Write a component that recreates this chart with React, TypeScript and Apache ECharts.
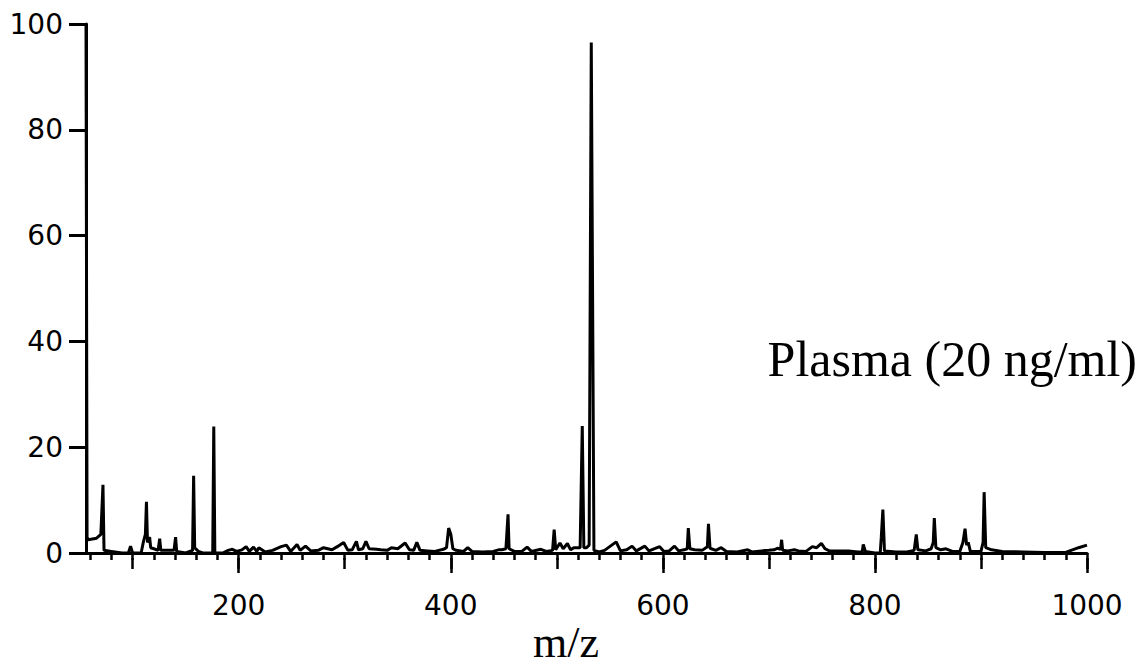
import React, { useEffect, useRef } from "react";
import * as echarts from "echarts";

// m/z positions and relative intensities
const mz: number[] = [
  56, 57, 58, 66, 70, 72, 73, 80, 90, 96, 98, 100, 108, 110, 112, 113, 114, 116, 117, 120,
  124, 125.5, 126.5, 132, 139, 140.5, 141.5, 150, 156.5, 157.5, 158.5, 162, 166, 175.5, 176.5, 177.5,
  185, 190, 194, 198, 203, 207, 210, 214, 217, 219, 225, 232, 240, 245, 249, 255, 258, 263, 268,
  275, 280, 288, 293, 299, 303, 307, 311, 313, 317, 320, 323, 330, 334, 340, 344, 350, 357, 361,
  365, 368, 371, 378, 385, 393, 396, 398, 400, 402, 405, 412, 416, 420, 430, 440, 445, 448, 452,
  454, 455, 460, 467, 472, 476, 485, 490, 496, 497.5, 499, 503, 506, 510, 513, 516, 522, 524, 525.5,
  528, 530.5, 532.5, 535, 540, 545, 556, 560, 566, 571, 575, 583, 587, 597, 601, 606, 611, 615, 620,
  623, 624, 625.5, 630, 637, 642, 643, 644.5, 650, 655, 660, 670, 680, 684, 693, 700, 705, 708, 711,
  712, 713, 718, 724, 728, 735, 741, 745, 749.5, 753, 757, 765, 775, 784, 788, 789, 791, 800, 805,
  806, 807.5, 809, 820, 830, 837, 839, 840.5, 848, 853, 855, 856, 857.5, 862, 867, 873, 880, 883,
  885, 886.5, 888, 890, 900, 902, 903, 904.5, 910, 920, 940, 960, 980, 985, 992, 1000,
];
const intensity: number[] = [
  100, 3, 2.5, 2.8, 3.5, 12.9, 0.5, 0.3, 0, 0, 1.3, 0, 0, 2, 3.5, 9.7, 2, 3, 1, 0.8,
  0.5, 2.7, 0.5, 0.5, 0.5, 3, 0.3, 0, 0.5, 14.6, 1, 0.3, 0, 0, 23.9, 0,
  0, 0.5, 0.7, 0.3, 0.6, 1.2, 0.3, 1.1, 0.3, 1.0, 0.2, 0.5, 1.2, 1.5, 0.3, 1.6, 0.5, 1.3, 0.4,
  0.5, 1.0, 0.6, 1.2, 2.0, 0.5, 0.6, 2.2, 0.6, 0.8, 2.2, 0.8, 0.7, 0.6, 0.5, 1.0, 0.8, 1.9, 0.6,
  0.5, 2.0, 0.5, 0.4, 0.3, 0.7, 1.0, 4.7, 3.6, 0.8, 0.5, 0.3, 1.0, 0.3, 0.2, 0.3, 0.6, 0.6, 0.8,
  7.3, 0.8, 0.3, 0.3, 1.1, 0.3, 0.7, 0.3, 0.5, 4.4, 0.6, 1.9, 0.8, 1.8, 0.6, 1.0, 1.0, 24, 1.0,
  1.0, 1.5, 96.5, 0.5, 0.2, 0.5, 2.1, 0.4, 0.6, 1.3, 0.4, 1.3, 0.4, 1.2, 0.3, 0.4, 1.3, 0.4, 0.6,
  0.8, 4.7, 0.8, 0.6, 0.5, 1.2, 5.5, 0.9, 0.5, 1.0, 0.3, 0.2, 0.6, 0.2, 0.4, 0.5, 0.6, 0.9, 0.7,
  2.5, 0.5, 0.4, 0.6, 0.4, 0.3, 1.2, 1.0, 1.8, 0.8, 0.4, 0.4, 0.4, 0.2, 0.2, 1.6, 0.3, 0, 0,
  3, 8.2, 0.4, 0.2, 0.2, 0.5, 3.5, 0.6, 0.4, 0.8, 2, 6.6, 1.0, 0.6, 0.8, 0.3, 0.3, 2.0,
  4.6, 1.5, 2.0, 0.3, 0.3, 2, 11.5, 1.0, 0.6, 0.3, 0.2, 0.1, 0.1, 0.5, 1.0, 1.5,
];

const yTicks: number[] = [0, 20, 40, 60, 80, 100];
const xLabelValues: number[] = [200, 400, 600, 800, 1000];
const xMinorTicks: number[] = [
  60, 80, 100, 120, 140, 160, 180, 200, 220, 240, 260, 280, 300, 320, 340, 360, 380, 400, 420, 440,
  460, 480, 500, 520, 540, 560, 580, 600, 620, 640, 660, 680, 700, 720, 740, 760, 780, 800, 820, 840,
  860, 880, 900, 920, 940, 960, 980, 1000,
];
const xMidTicks: number[] = [100, 200, 300, 400, 500, 600, 700, 800, 900, 1000];
const xAxisTitle = "m/z";
const annotation = "Plasma (20 ng/ml)";

const X_MIN = 56;
const X_MAX = 1000;

export default function App() {
  const ref = useRef<HTMLDivElement>(null);
  useEffect(() => {
    if (!ref.current) return;
    const chart = echarts.init(ref.current, undefined, { renderer: "svg" });
    const data = mz.map((m, i) => [m, intensity[i]]);
    const baseX = {
      type: "value" as const,
      min: X_MIN,
      max: X_MAX,
      position: "bottom" as const,
      offset: 5,
      splitLine: { show: false },
      gridIndex: 0,
    };
    chart.setOption({
      animation: false,
      backgroundColor: "#ffffff",
      grid: { left: 86, right: 58, top: 24, bottom: 116 },
      xAxis: [
        {
          ...baseX,
          axisLine: { show: true, lineStyle: { color: "#000", width: 3 } },
          axisTick: { show: true, length: 7, lineStyle: { color: "#000", width: 2.5 }, customValues: xMinorTicks },
          axisLabel: { show: false },
        },
        {
          ...baseX,
          axisLine: { show: false },
          axisTick: { show: true, length: 11, lineStyle: { color: "#000", width: 2.5 }, customValues: xMidTicks },
          axisLabel: { show: false },
        },
        {
          ...baseX,
          axisLine: { show: false },
          axisTick: { show: true, length: 15, lineStyle: { color: "#000", width: 2.5 }, customValues: xLabelValues },
          axisLabel: {
            show: true,
            customValues: xLabelValues,
            formatter: (v: number) => String(v),
            margin: 33,
            color: "#000",
            fontSize: 28,
            fontFamily: "DejaVu Sans",
          },
        },
      ],
      yAxis: {
        type: "value",
        min: 0,
        max: 100,
        interval: 20,
        splitLine: { show: false },
        axisLine: { show: true, lineStyle: { color: "#000", width: 3 } },
        axisTick: { show: true, length: 17, lineStyle: { color: "#000", width: 3 } },
        axisLabel: {
          color: "#000",
          fontSize: 28,
          fontFamily: "DejaVu Sans",
          margin: 23,
          customValues: yTicks,
          formatter: (v: number) => String(v),
        },
      },
      graphic: [
        {
          type: "text",
          x: 566,
          y: 642,
          style: {
            text: xAxisTitle,
            fill: "#000",
            font: '44px "Liberation Serif"',
            align: "center",
            verticalAlign: "middle",
          },
        },
        {
          type: "text",
          x: 1137,
          y: 359,
          style: {
            text: annotation,
            fill: "#000",
            font: '50px "Liberation Serif"',
            align: "right",
            verticalAlign: "middle",
          },
        },
      ],
      series: [
        {
          type: "line",
          xAxisIndex: 0,
          data,
          showSymbol: false,
          symbol: "none",
          lineStyle: { color: "#000", width: 3 },
          clip: true,
        },
      ],
    });
    return () => chart.dispose();
  }, []);
  return (
    <div
      ref={ref}
      style={{ position: "fixed", left: 0, top: 0, width: 1145, height: 669, background: "#fff" }}
    />
  );
}
